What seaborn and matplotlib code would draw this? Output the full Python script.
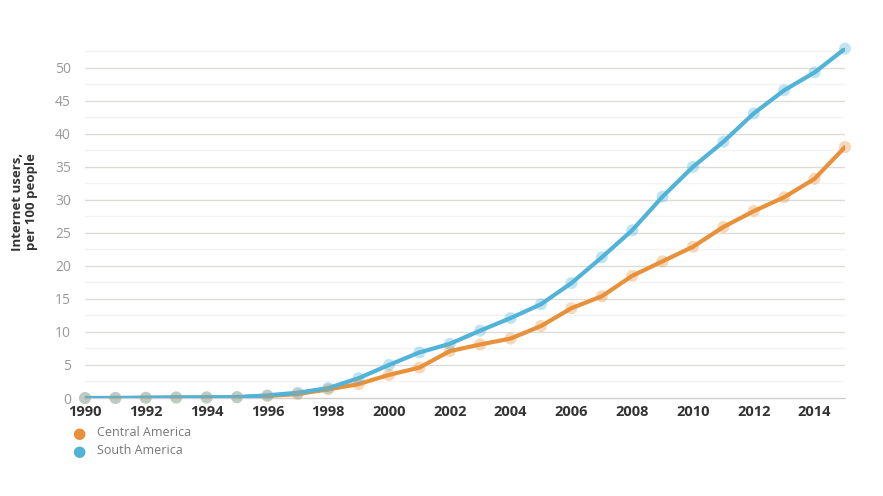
import matplotlib
matplotlib.use("Agg")
import matplotlib.pyplot as plt
import seaborn as sns
import pandas as pd
import numpy as np

# data
years = list(range(1990, 2016))
central_america = [0.0, 0.0, 0.02, 0.05, 0.07, 0.1, 0.3, 0.6, 1.3, 2.1, 3.5, 4.6, 7.1, 8.1, 9.0,
                   10.9, 13.6, 15.4, 18.5, 20.7, 22.9, 25.9, 28.3, 30.4, 33.2, 38.0]
south_america = [0.0, 0.0, 0.05, 0.1, 0.1, 0.15, 0.4, 0.8, 1.5, 3.0, 5.0, 6.9, 8.2, 10.2, 12.1,
                 14.2, 17.4, 21.3, 25.4, 30.5, 35.0, 38.8, 43.1, 46.6, 49.3, 52.9]
series_names = ["Central America", "South America"]
colors = {"Central America": "#E8913A", "South America": "#52B3D9"}

df = pd.DataFrame({"year": years * 2,
                   "value": central_america + south_america,
                   "region": [series_names[0]] * len(years) + [series_names[1]] * len(years)})

sns.set_theme(style="white")
plt.rcParams['font.family'] = ['Open Sans', 'DejaVu Sans']

fig = plt.figure(figsize=(8.83, 4.96), dpi=100)
ax = fig.add_axes([85/883, 1 - 398/496, (845 - 85)/883, (398 - 48)/496])

# grid: major every 5, light minor every 2.5
for v in np.arange(2.5, 53, 2.5):
    major = (v % 5 == 0)
    ax.axhline(v, color="#dcdcd8" if major else "#f3f3f1", lw=1, zorder=0)

sns.lineplot(data=df, x="year", y="value", hue="region", palette=colors, lw=3,
             ax=ax, legend=False, zorder=3)
sns.scatterplot(data=df, x="year", y="value", hue="region", palette=colors, s=75,
                alpha=0.35, edgecolor="none", ax=ax, legend=False, zorder=4, clip_on=False)

ax.set_xlim(1990, 2015)
ax.set_ylim(0, 53)
ax.set_xticks(range(1990, 2015, 2))
ax.set_yticks(range(0, 55, 5))
ax.tick_params(axis="x", length=4, width=1, color="#cfcfcf", labelsize=10.5, labelcolor="#333333", pad=1)
ax.tick_params(axis="y", length=0, labelsize=10, labelcolor="#999999", pad=10)
for lab in ax.get_xticklabels():
    lab.set_fontweight("bold")

for s in ["top", "right", "left"]:
    ax.spines[s].set_visible(False)
ax.spines["bottom"].set_color("#cfcfcf")
ax.spines["bottom"].set_linewidth(1)

ax.set_xlabel("")
ax.set_ylabel("")
fig.text(25/883, 1 - 202/496, "Internet users,\nper 100 people", fontsize=9.5, fontweight="bold",
         color="#333333", rotation=90, ha="center", va="center", linespacing=1.1)

# legend below the axes
for i, name in enumerate(series_names):
    y = 1 - (433 + 18 * i)/496
    fig.text(79/883, y, "\u25CF", color=colors[name], fontsize=11, ha="center", va="center",
             family=["DejaVu Sans"])
    fig.text(97/883, y, name, color="#777777", fontsize=9, ha="left", va="center")

fig.savefig("out.png", dpi=100)
